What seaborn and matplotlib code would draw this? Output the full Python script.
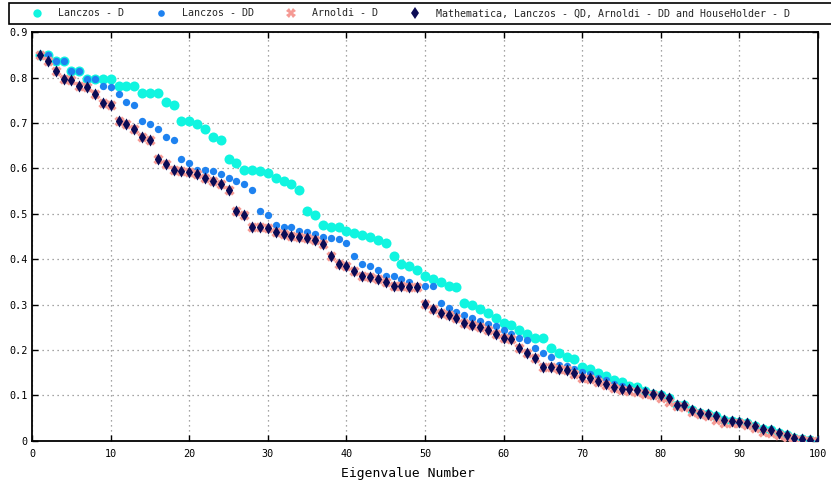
import numpy as np
import pandas as pd
import matplotlib
matplotlib.use("Agg")
import matplotlib.pyplot as plt
import seaborn as sns
from matplotlib.patches import Rectangle
from matplotlib.lines import Line2D
from matplotlib.ticker import FuncFormatter

# ---------------- data ----------------
eig_index = list(range(1, 101))

mathematica_qd = [
    0.850, 0.837, 0.815, 0.797, 0.795, 0.781, 0.780, 0.765, 0.745, 0.740,
    0.704, 0.698, 0.686, 0.670, 0.662, 0.620, 0.609, 0.596, 0.595, 0.593,
    0.587, 0.580, 0.572, 0.565, 0.552, 0.506, 0.497, 0.472, 0.470, 0.469,
    0.460, 0.456, 0.452, 0.449, 0.447, 0.443, 0.434, 0.406, 0.390, 0.384,
    0.375, 0.363, 0.361, 0.356, 0.349, 0.342, 0.341, 0.338, 0.338, 0.302,
    0.291, 0.281, 0.276, 0.270, 0.259, 0.255, 0.250, 0.245, 0.235, 0.226,
    0.224, 0.205, 0.193, 0.183, 0.163, 0.163, 0.157, 0.155, 0.149, 0.141,
    0.139, 0.132, 0.126, 0.119, 0.115, 0.113, 0.111, 0.107, 0.103, 0.100,
    0.093, 0.079, 0.078, 0.067, 0.061, 0.058, 0.054, 0.046, 0.043, 0.041,
    0.038, 0.033, 0.025, 0.024, 0.016, 0.013, 0.007, 0.004, 0.002, 0.000,
]

arnoldi_d = [
    0.850, 0.837, 0.815, 0.797, 0.795, 0.781, 0.780, 0.765, 0.745, 0.740,
    0.704, 0.698, 0.686, 0.670, 0.662, 0.620, 0.609, 0.596, 0.595, 0.593,
    0.587, 0.580, 0.572, 0.565, 0.552, 0.506, 0.497, 0.472, 0.470, 0.469,
    0.460, 0.456, 0.452, 0.449, 0.447, 0.443, 0.434, 0.406, 0.390, 0.384,
    0.375, 0.363, 0.361, 0.356, 0.349, 0.342, 0.341, 0.338, 0.338, 0.302,
    0.291, 0.281, 0.276, 0.270, 0.259, 0.255, 0.250, 0.245, 0.235, 0.226,
    0.224, 0.205, 0.193, 0.183, 0.163, 0.163, 0.157, 0.155, 0.148, 0.139,
    0.136, 0.129, 0.123, 0.116, 0.112, 0.110, 0.108, 0.104, 0.100, 0.094,
    0.086, 0.076, 0.074, 0.064, 0.058, 0.054, 0.046, 0.040, 0.040, 0.038,
    0.034, 0.028, 0.020, 0.018, 0.012, 0.009, 0.004, 0.001, 0.000, 0.000,
]

lanczos_dd = [
    0.850, 0.850, 0.837, 0.837, 0.815, 0.815, 0.797, 0.797, 0.781, 0.780,
    0.765, 0.747, 0.740, 0.704, 0.699, 0.686, 0.670, 0.662, 0.620, 0.611,
    0.597, 0.596, 0.594, 0.587, 0.580, 0.572, 0.565, 0.552, 0.506, 0.497,
    0.475, 0.471, 0.470, 0.463, 0.460, 0.456, 0.450, 0.447, 0.444, 0.436,
    0.407, 0.390, 0.385, 0.377, 0.364, 0.362, 0.357, 0.349, 0.340, 0.340,
    0.340, 0.303, 0.292, 0.283, 0.276, 0.270, 0.263, 0.257, 0.252, 0.244,
    0.236, 0.226, 0.223, 0.204, 0.194, 0.184, 0.166, 0.164, 0.158, 0.152,
    0.146, 0.139, 0.133, 0.126, 0.120, 0.116, 0.112, 0.109, 0.104, 0.100,
    0.093, 0.079, 0.078, 0.067, 0.061, 0.058, 0.054, 0.046, 0.043, 0.041,
    0.038, 0.033, 0.025, 0.024, 0.016, 0.013, 0.007, 0.004, 0.002, 0.000,
]

lanczos_d = [
    0.850, 0.850, 0.837, 0.837, 0.815, 0.815, 0.797, 0.797, 0.797, 0.797,
    0.781, 0.781, 0.781, 0.767, 0.767, 0.767, 0.747, 0.740, 0.704, 0.704,
    0.699, 0.686, 0.670, 0.662, 0.620, 0.611, 0.596, 0.596, 0.594, 0.589,
    0.580, 0.572, 0.565, 0.553, 0.506, 0.497, 0.475, 0.471, 0.470, 0.462,
    0.458, 0.454, 0.448, 0.442, 0.436, 0.407, 0.390, 0.385, 0.377, 0.363,
    0.357, 0.349, 0.342, 0.338, 0.303, 0.300, 0.291, 0.282, 0.271, 0.260,
    0.255, 0.245, 0.235, 0.226, 0.226, 0.205, 0.194, 0.184, 0.180, 0.163,
    0.158, 0.150, 0.142, 0.134, 0.129, 0.121, 0.118, 0.110, 0.104, 0.101,
    0.094, 0.079, 0.078, 0.067, 0.061, 0.058, 0.054, 0.046, 0.043, 0.041,
    0.038, 0.033, 0.025, 0.024, 0.016, 0.013, 0.007, 0.004, 0.002, 0.000,
]

series_labels = [
    "Lanczos - D",
    "Lanczos - DD",
    "Arnoldi - D",
    "Mathematica, Lanczos - QD, Arnoldi - DD and HouseHolder - D",
]

x_ticks = [0, 10, 20, 30, 40, 50, 60, 70, 80, 90, 100]
y_ticks = [0, 0.1, 0.2, 0.3, 0.4, 0.5, 0.6, 0.7, 0.8, 0.9]

# ---------------- style ----------------
sns.set_theme(style="white")
plt.rcParams["font.family"] = ["DejaVu Sans Mono", "DejaVu Sans"]

c_cyan = "#10F5E0"
c_blue = "#1E82F0"
c_pink = "#F59A94"
c_dark = "#0B0B55"

W, H = 831, 488
fig = plt.figure(figsize=(W / 100, H / 100), dpi=100)
fig.patch.set_facecolor("white")
ax = fig.add_axes([32.1 / W, 1 - 440.7 / H, (818 - 32.1) / W, (440.7 - 32.3) / H])

df = pd.DataFrame({
    "idx": eig_index,
    "ld": lanczos_d,
    "ldd": lanczos_dd,
    "ad": arnoldi_d,
    "mq": mathematica_qd,
})

sns.scatterplot(data=df, x="idx", y="ld", ax=ax, color=c_cyan, marker="o",
                s=52, linewidth=0, zorder=3)
sns.scatterplot(data=df, x="idx", y="ldd", ax=ax, color=c_blue, marker="o",
                s=28, linewidth=0, zorder=4)
sns.scatterplot(data=df, x="idx", y="ad", ax=ax, color=c_pink, marker="X",
                s=55, linewidth=0, zorder=5)
sns.scatterplot(data=df, x="idx", y="mq", ax=ax, color=c_dark, marker="d",
                s=38, linewidth=0, zorder=6)

ax.set_xlim(0, 100)
ax.set_ylim(0, 0.9)
ax.set_xticks(x_ticks)
ax.set_yticks(y_ticks)
ax.yaxis.set_major_formatter(FuncFormatter(lambda v, p: "0" if abs(v) < 1e-9 else f"{v:.1f}"))
ax.xaxis.set_major_formatter(FuncFormatter(lambda v, p: f"{int(round(v))}"))
ax.tick_params(axis="both", which="major", direction="in", length=4, width=1,
               labelsize=7.3, colors="black", top=True, right=True,
               bottom=True, left=True)
ax.tick_params(axis="x", pad=6)
ax.tick_params(axis="y", pad=3)
ax.grid(True, color="#888888", linestyle=(0, (1, 3)), linewidth=0.9)
ax.set_axisbelow(True)
for sp in ax.spines.values():
    sp.set_visible(True)
    sp.set_color("black")
    sp.set_linewidth(1.3)

ax.set_xlabel("Eigenvalue Number", fontsize=9.4, color="black")
ax.xaxis.set_label_coords((408 - 32.1) / (818 - 32.1), -(474 - 440.7) / (440.7 - 32.3))
ax.xaxis.label.set_verticalalignment("center")
ax.set_ylabel("")

# legend box and legend
fig.patches.append(Rectangle((9 / W, 1 - 23.5 / H), 1.0, 20.2 / H, transform=fig.transFigure,
                             facecolor="white", edgecolor="black", linewidth=1.2, zorder=1))
handles = [
    Line2D([], [], linestyle="none", marker="o", markersize=6.0, color=c_cyan, markeredgewidth=0),
    Line2D([], [], linestyle="none", marker="o", markersize=4.8, color=c_blue, markeredgewidth=0),
    Line2D([], [], linestyle="none", marker="X", markersize=6.5, color=c_pink, markeredgewidth=0),
    Line2D([], [], linestyle="none", marker="d", markersize=6.0, color=c_dark, markeredgewidth=0),
]
leg = fig.legend(handles, series_labels, loc="center left", ncol=4, frameon=False,
                 bbox_to_anchor=(32.3 / W, 1 - 13.5 / H), fontsize=7.2,
                 handlelength=1.0, handletextpad=1.6, columnspacing=3.2,
                 borderpad=0, borderaxespad=0)
leg.set_zorder(2)

fig.savefig("out.png", dpi=100)
